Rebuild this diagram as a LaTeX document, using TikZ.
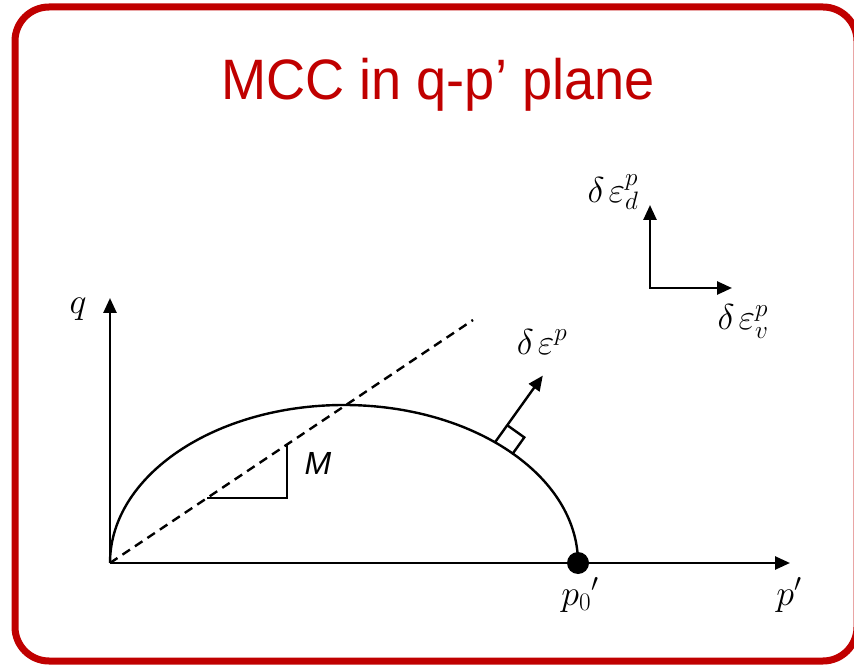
\RequirePackage{fix-cm}
\documentclass[tikz,border=0pt]{standalone}
\usepackage{fontspec}
\newfontfamily\titlefont{Liberation Sans}
\usetikzlibrary{arrows.meta}
\definecolor{mccred}{HTML}{C00000}
\begin{document}
\begin{tikzpicture}[x=1pt,y=1pt,
  tip/.style={-{Triangle[length=15pt,width=13pt]}},
  axis/.style={line width=2.6pt, tip},
  curve/.style={line width=2.4pt},
  lbl/.style={font=\fontsize{36}{42}\selectfont, inner sep=0pt, anchor=base},
]
\useasboundingbox (0,0) rectangle (854,665);
\draw[mccred, line width=7pt, rounded corners=34pt] (15,4) rectangle (857,658);
\node[anchor=base, text=mccred, inner sep=0pt, font=\titlefont\fontsize{57}{68}\selectfont] (title) at (438,565) {\scalebox{0.95}[1]{MCC in q-p’ plane}};
% axes
\coordinate (O) at (110,102);
\coordinate (qtip) at (110,367);
\coordinate (ptip) at (790,102);
\coordinate (p0) at (578,102);
\draw[axis] (O) -- (qtip);
\draw[axis] (O) -- (ptip);
% yield ellipse
\draw[curve] (p0) arc[start angle=0, end angle=180, x radius=234, y radius=158];
% critical state line
\coordinate (csl) at (473,345);
\draw[curve, dash pattern=on 9pt off 6pt] (O) -- (csl);
% slope triangle
\coordinate (m1) at (207.2,167);
\coordinate (m2) at (287,167);
\coordinate (m3) at (287,220.3);
\draw[curve] (m1) -- (m2) -- (m3);
\node[font=\titlefont\itshape\fontsize{32}{38}\selectfont, inner sep=0pt] (Mlab) at (318,202) {M};
% normal vector
\coordinate (P) at (495,222.7);
\coordinate (ntip) at (542.8,289.4);
\draw[axis, line width=2.4pt] (P) -- (ntip);
\draw[curve] (P) ++(12.2,17.1) -- ++(17.1,-12.2) -- ++(-12.2,-17.1);
% p0 dot
\node[circle, fill=black, inner sep=0pt, minimum size=22pt] (p0dot) at (p0) {};
% strain axes
\coordinate (S) at (650,377);
\coordinate (Sd) at (650,460);
\coordinate (Sv) at (732,377);
\draw[line width=2.6pt, line join=miter, {Triangle[length=15pt,width=13pt]}-{Triangle[length=15pt,width=13pt]}] (Sd) -- (S) -- (Sv);
% labels
\node[lbl] (qlab) at (78,352) {$q$};
\node[lbl] (plab) at (789,60) {$p'$};
\node[lbl] (p0lab) at (580,60) {$p_0{}'$};
\node[lbl] (delab) at (542,311) {$\delta\mkern2mu\varepsilon^p$};
\node[lbl] (ddlab) at (613,462) {$\delta\mkern2mu\varepsilon_d^p$};
\node[lbl] (dvlab) at (743,335) {$\delta\mkern2mu\varepsilon_v^p$};
\end{tikzpicture}
\end{document}
